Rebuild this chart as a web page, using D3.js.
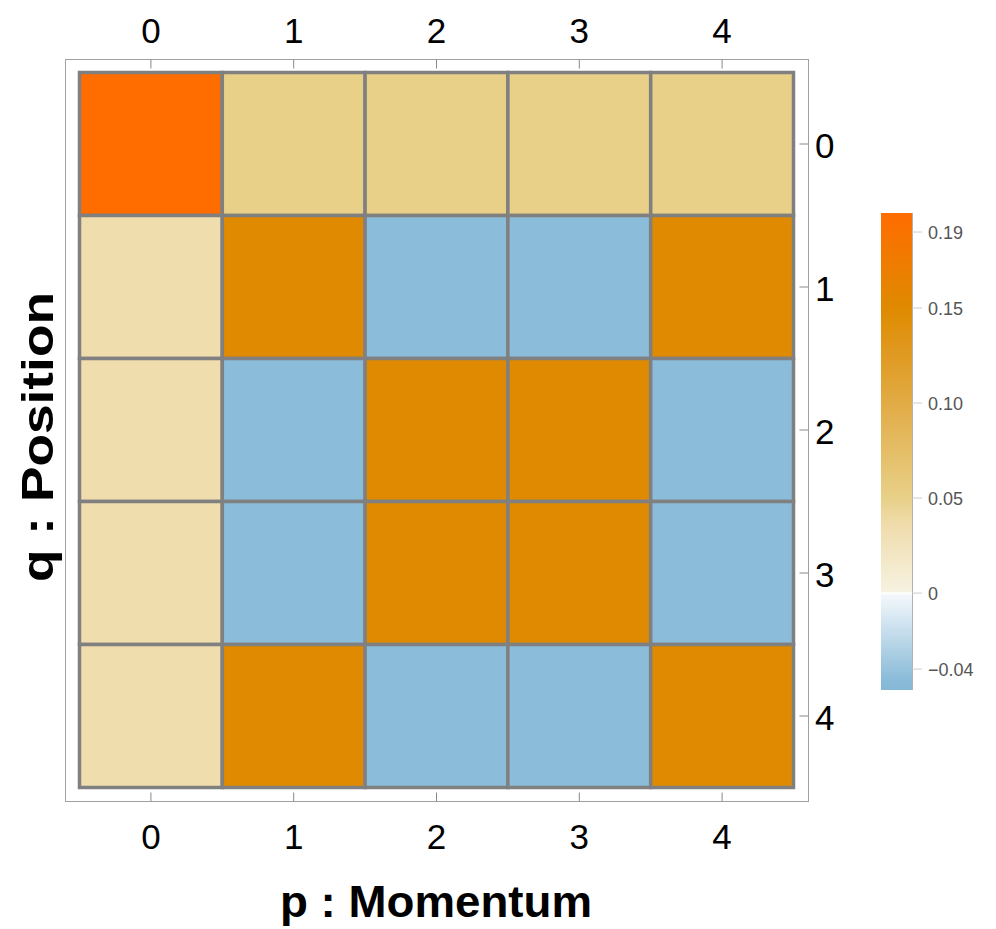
<!DOCTYPE html>
<html><head><meta charset="utf-8">
<script src="https://cdn.jsdelivr.net/npm/d3@7"></script>
<style>body{margin:0;background:#fff}svg{display:block}text{font-family:"Liberation Sans",Arial,sans-serif}</style>
</head><body><svg id="c" width="996" height="929"></svg>
<script>
const pLabels = ["0","1","2","3","4"];
const qLabels = ["0","1","2","3","4"];
// rows: q = 0..4, columns: p = 0..4
const row0 = [0.20, 0.05, 0.05, 0.05, 0.05];
const row1 = [0.035, 0.15, -0.045, -0.045, 0.15];
const row2 = [0.035, -0.045, 0.15, 0.15, -0.045];
const row3 = [0.035, -0.045, 0.15, 0.15, -0.045];
const row4 = [0.035, 0.15, -0.045, -0.045, 0.15];
const rows = [row0, row1, row2, row3, row4];
const legendTicks = [0.19, 0.15, 0.10, 0.05, 0, -0.04];
const legendTickLabels = ["0.19","0.15","0.10","0.05","0","\u22120.04"];
const legendDomain = [-0.051, 0.2];

const colorStops = [-0.051, -0.045, -0.0001, 0.0001, 0.035, 0.05, 0.10, 0.15, 0.20];
const colorVals  = ["#85b8d5","#8bbcd9","#f6f9fc","#f6f2e2","#f0ddae","#e8d088","#e1ab45","#df8a00","#ff6c00"];
const color = d3.scaleLinear().domain(colorStops).range(colorVals).interpolate(d3.interpolateRgb).clamp(true);

const svg = d3.select("#c");
const x = d3.scaleBand().domain(pLabels).range([79.5, 793.5]).padding(0);
const y = d3.scaleBand().domain(qLabels).range([72.5, 787.5]).padding(0);

// frame
const fx0 = 65.5, fx1 = 808.5, fy0 = 59.5, fy1 = 801.5;
svg.append("rect").attr("x", fx0).attr("y", fy0).attr("width", fx1-fx0).attr("height", fy1-fy0)
  .attr("fill","none").attr("stroke","#a0a0a0").attr("stroke-width",1);

// cells
const cells = [];
rows.forEach((r,qi)=>r.forEach((v,pi)=>cells.push({q:qLabels[qi],p:pLabels[pi],v})));
svg.append("g").selectAll("rect").data(cells).join("rect")
  .attr("x", d=>x(d.p)).attr("y", d=>y(d.q))
  .attr("width", x.bandwidth()).attr("height", y.bandwidth())
  .attr("fill", d=>color(d.v))
  .attr("stroke","#808080").attr("stroke-width",3.5);

// axes ticks
const tickLen = 9;
const gTop = svg.append("g");
pLabels.forEach(p=>{
  const cx = x(p)+x.bandwidth()/2;
  gTop.append("line").attr("x1",cx).attr("x2",cx).attr("y1",fy0).attr("y2",fy0+tickLen).attr("stroke","#888").attr("stroke-width",1);
  gTop.append("line").attr("x1",cx).attr("x2",cx).attr("y1",fy1).attr("y2",fy1-tickLen).attr("stroke","#888").attr("stroke-width",1);
  gTop.append("text").attr("x",cx).attr("y",43).attr("text-anchor","middle").attr("font-size",35).text(p);
  gTop.append("text").attr("x",cx).attr("y",849).attr("text-anchor","middle").attr("font-size",35).text(p);
});
qLabels.forEach(q=>{
  const cy = y(q)+y.bandwidth()/2;
  gTop.append("line").attr("x1",fx1).attr("x2",fx1-tickLen).attr("y1",cy).attr("y2",cy).attr("stroke","#888").attr("stroke-width",1);
  gTop.append("text").attr("x",815).attr("y",cy+14).attr("text-anchor","start").attr("font-size",35).text(q);
});

// axis titles
svg.append("text").attr("x",436).attr("y",917).attr("text-anchor","middle")
  .attr("font-size",45).attr("font-weight","bold")
  .attr("textLength",312).attr("lengthAdjust","spacingAndGlyphs").text("p : Momentum");
svg.append("text").attr("transform","translate(53,437) rotate(-90)").attr("text-anchor","middle")
  .attr("font-size",45).attr("font-weight","bold")
  .attr("textLength",290).attr("lengthAdjust","spacingAndGlyphs").text("q : Position");

// legend
const ly = d3.scaleLinear().domain(legendDomain).range([690, 213]);
const defs = svg.append("defs");
const grad = defs.append("linearGradient").attr("id","lg").attr("x1",0).attr("x2",0).attr("y1",1).attr("y2",0);
colorStops.forEach((s,i)=>{
  const off = (s-legendDomain[0])/(legendDomain[1]-legendDomain[0]);
  grad.append("stop").attr("offset", Math.max(0,Math.min(1,off))).attr("stop-color", colorVals[i]);
});
const lx0 = 881, lx1 = 912;
svg.append("rect").attr("x",lx0).attr("y",ly(legendDomain[1])).attr("width",lx1-lx0)
  .attr("height", ly(legendDomain[0])-ly(legendDomain[1])).attr("fill","url(#lg)");
svg.append("line").attr("x1",lx1+0.5).attr("x2",lx1+0.5).attr("y1",ly(legendDomain[1])).attr("y2",ly(legendDomain[0]))
  .attr("stroke","#b0b0b0").attr("stroke-width",1);
svg.append("line").attr("x1",lx0).attr("x2",lx1).attr("y1",ly(0)).attr("y2",ly(0)).attr("stroke","#fff").attr("stroke-width",1.5);
const lg = svg.append("g");
legendTicks.forEach((t,i)=>{
  lg.append("line").attr("x1",lx1).attr("x2",lx1+10).attr("y1",ly(t)).attr("y2",ly(t)).attr("stroke","#ccc").attr("stroke-width",1);
  lg.append("text").attr("x",928).attr("y",ly(t)+6.5).attr("font-size",18).attr("fill","#555").text(legendTickLabels[i]);
});
</script></body></html>
